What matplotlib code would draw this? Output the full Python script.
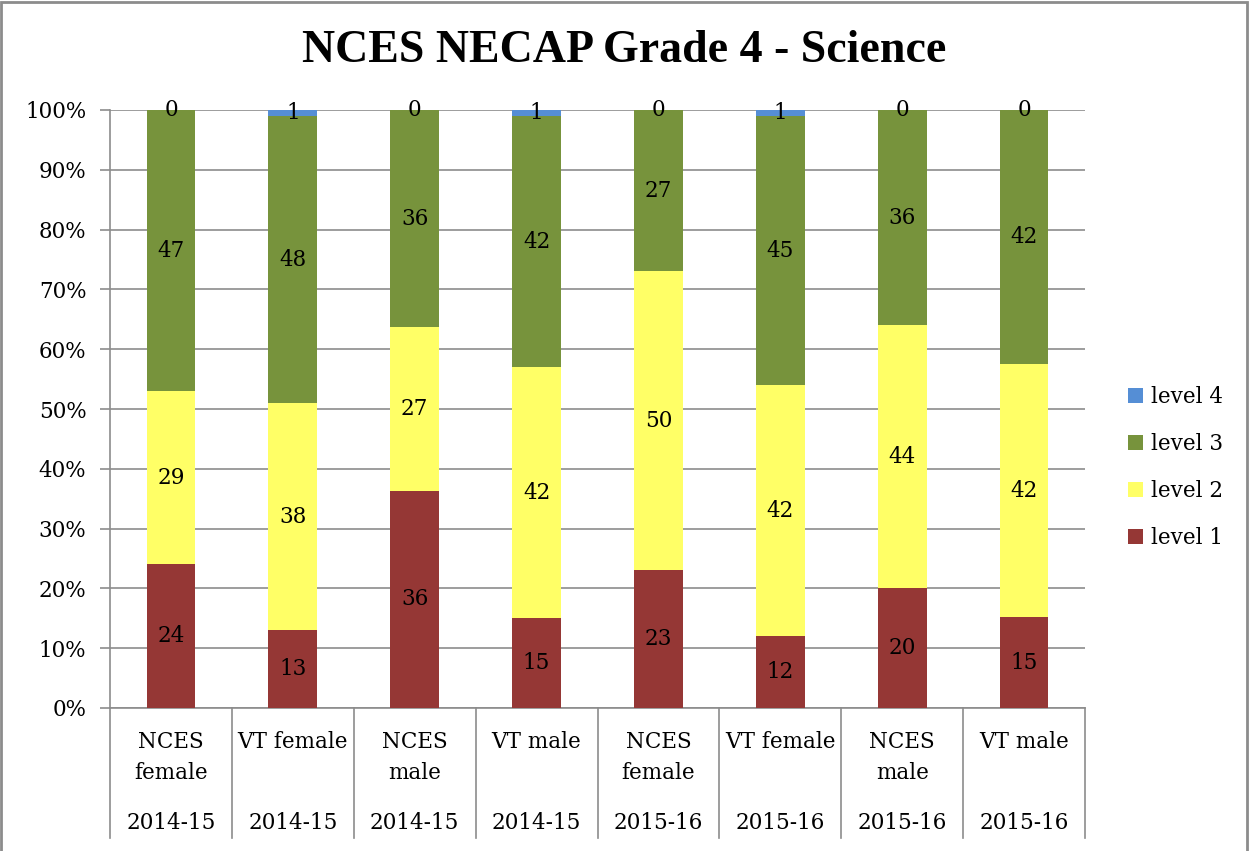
import numpy as np
import matplotlib.pyplot as plt
from matplotlib.lines import Line2D
from matplotlib.patches import Rectangle

groups = ["NCES\nfemale", "VT female", "NCES\nmale", "VT male",
          "NCES\nfemale", "VT female", "NCES\nmale", "VT male"]
years = ["2014-15"] * 4 + ["2015-16"] * 4

level1 = [24, 13, 36, 15, 23, 12, 20, 15]
level2 = [29, 38, 27, 42, 50, 42, 44, 42]
level3 = [47, 48, 36, 42, 27, 45, 36, 42]
level4 = [0, 1, 0, 1, 0, 1, 0, 0]

series = [("level 1", level1, "#953735"),
          ("level 2", level2, "#FFFF66"),
          ("level 3", level3, "#77933C"),
          ("level 4", level4, "#558ED5")]

serif = "DejaVu Serif"
fs = 15.5
gray = "#8c8c8c"

fig = plt.figure(figsize=(12.49, 8.51), dpi=100)
ax = fig.add_axes([110 / 1249, 1 - 708 / 851, 975 / 1249, 598 / 851])

x = np.arange(len(groups))
totals = np.array(level1) + np.array(level2) + np.array(level3) + np.array(level4)
bottom = np.zeros(len(groups))
handles = []
for name, vals, col in series:
    share = np.array(vals) / totals * 100
    bars = ax.bar(x, share, 0.4, bottom=bottom, color=col, label=name, zorder=3)
    for xi, b, s, v in zip(x, bottom, share, vals):
        ax.text(xi, b + s / 2, str(v), ha="center", va="center",
                fontsize=fs, family=serif, zorder=4)
    bottom += share
    handles.append(bars)

ax.set_xlim(-0.5, len(groups) - 0.5)
ax.set_ylim(0, 100)
ax.set_yticks(np.arange(0, 101, 10))
ax.set_yticklabels([f"{v}%" for v in range(0, 101, 10)], family=serif, fontsize=fs)
ax.yaxis.grid(True, color=gray, linewidth=1.2, zorder=0)
ax.tick_params(axis="y", length=7, color=gray, width=1.2, pad=10)
ax.set_xticks([])
for s in ["top", "right"]:
    ax.spines[s].set_visible(False)
for s in ["left", "bottom"]:
    ax.spines[s].set_color(gray)
    ax.spines[s].set_linewidth(1.2)

# category labels below the axis, in a table-like layout
trans = ax.get_xaxis_transform()
for xi, g, yr in zip(x, groups, years):
    lines = g.split("\n")
    for k, ln in enumerate(lines):
        ax.text(xi, -0.057 - 0.052 * k, ln, transform=trans, ha="center",
                va="center", fontsize=fs, family=serif)
    ax.text(xi, -0.192, yr, transform=trans, ha="center", va="center",
            fontsize=fs, family=serif)
for b in np.arange(-0.5, len(groups), 1.0):
    ax.add_line(Line2D([b, b], [0, -0.217], transform=trans, color=gray,
                       linewidth=1.2, clip_on=False))

fig.text(0.5, 1 - 51 / 851, "NCES NECAP Grade 4 - Science", fontsize=33,
         fontweight="bold", family="Liberation Serif", ha="center", va="center")

leg = ax.legend(handles[::-1], [s[0] for s in series][::-1],
                loc="center left", bbox_to_anchor=(1.024, 0.402), frameon=False,
                prop={"family": serif, "size": fs}, handlelength=0.7,
                handleheight=0.7, labelspacing=1.15, handletextpad=0.4)

fig.add_artist(Rectangle((0.001, -0.01), 0.997, 1.008, transform=fig.transFigure,
                         fill=False, edgecolor=gray, linewidth=2))

fig.savefig("out.png", dpi=100)
